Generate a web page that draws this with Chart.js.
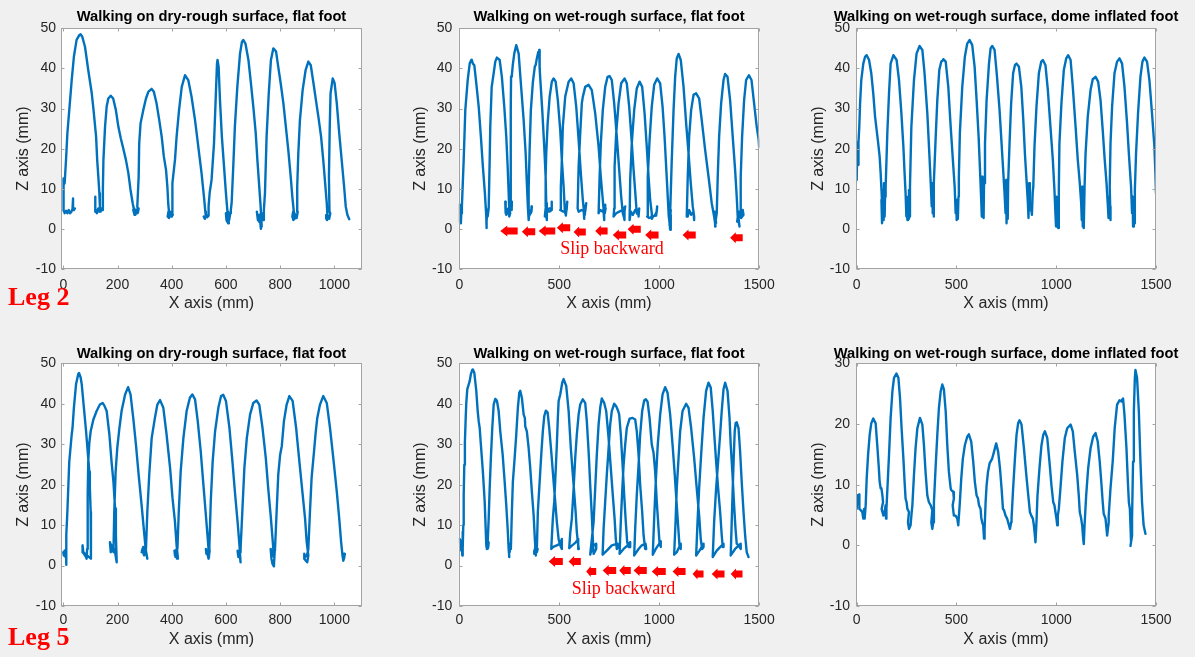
<!DOCTYPE html>
<html><head><meta charset="utf-8">
<script src="https://cdn.jsdelivr.net/npm/chart.js@4.4.1/dist/chart.umd.min.js"></script>
<style>
html,body{margin:0;padding:0;background:#f0f0f0;}
body{width:1195px;height:657px;position:relative;overflow:hidden;}
canvas{position:absolute;}
.ttl{position:absolute;width:420px;text-align:center;font:bold 14.7px 'Liberation Sans',Arial,sans-serif;line-height:17px;color:#000;white-space:nowrap;}
.leg{position:absolute;left:8px;font:bold 26px 'Liberation Serif','Times New Roman',serif;line-height:26px;color:#ff0000;white-space:nowrap;}
.slip{position:absolute;width:200px;text-align:center;font:18px 'Liberation Serif','Times New Roman',serif;line-height:18px;color:#ff0000;white-space:nowrap;}
</style></head><body>
<canvas id="c1" width="398" height="330" style="left:0px;top:0px"></canvas>
<canvas id="c2" width="399" height="330" style="left:398px;top:0px"></canvas>
<canvas id="c3" width="398" height="330" style="left:797px;top:0px"></canvas>
<canvas id="c4" width="398" height="327" style="left:0px;top:330px"></canvas>
<canvas id="c5" width="399" height="327" style="left:398px;top:330px"></canvas>
<canvas id="c6" width="398" height="327" style="left:797px;top:330px"></canvas>
<div class="ttl" style="left:1.5px;top:8px">Walking on dry-rough surface, flat foot</div>
<div class="ttl" style="left:399px;top:8px">Walking on wet-rough surface, flat foot</div>
<div class="ttl" style="left:796px;top:8px">Walking on wet-rough surface, dome inflated foot</div>
<div class="ttl" style="left:1.5px;top:344.8px">Walking on dry-rough surface, flat foot</div>
<div class="ttl" style="left:399px;top:344.8px">Walking on wet-rough surface, flat foot</div>
<div class="ttl" style="left:796px;top:344.8px">Walking on wet-rough surface, dome inflated foot</div>
<div class="leg" style="top:283.5px">Leg 2</div>
<div class="leg" style="top:624px">Leg 5</div>
<div class="slip" style="left:512px;top:239px">Slip backward</div>
<div class="slip" style="left:523.5px;top:579px">Slip backward</div>
<script>
// ---- tick values ----
const xTicksShort = [0, 200, 400, 600, 800, 1000];
const xTicksLong = [0, 500, 1000, 1500];
const zTicks50 = [-10, 0, 10, 20, 30, 40, 50];
const zTicks30 = [-10, 0, 10, 20, 30];

// ---- trajectories [X (mm), Z (mm)] ----
const leg2DryFlat = [[43,5.1],[39,4.7],[36,7.6],[34,5.0],[30,4.3],[25,3.9],[20,4.7],[15,3.9],[10,4.5],[5,3.9],[2,4.5],[1,10.5],[0,12.6],[2,11.0],[5,11.4],[10,17.2],[15,23.8],[22,29.6],[31,37.1],[39,42.9],[49,47.1],[59,48.3],[64,48.5],[70,47.9],[80,45.4],[92,39.6],[105,33.8],[111,30.0],[121,23.0],[125,17.2],[130,12.2],[133,8.9],[135,5.6],[138,4.3],
[133,5.1],[127,4.3],[121,4.7],[118,4.3],[117,8.0],[119,4.7],[124,3.9],[129,5.1],[134,4.3],[139,5.1],[143,4.7],
[146,10.0],[148,17.2],[154,25.5],[160,30.5],[166,32.5],[175,33.2],[184,32.5],[194,29.6],[203,25.5],[212,22.6],[221,20.1],[231,17.2],[240,13.9],[248,9.7],[256,6.4],[261,4.7],[264,4.1],
[262,3.5],[258,4.7],[262,5.1],[266,3.5],[270,4.7],[274,3.9],[278,5.1],[276,4.3],[273,5.6],
[278,13.0],[280,21.3],[285,26.3],[295,29.6],[305,32.5],[314,34.2],[326,34.9],[334,34.2],[344,31.3],[354,27.1],[363,23.0],[371,18.0],[379,14.7],[384,10.5],[387,6.4],[391,3.5],
[388,4.3],[385,3.1],[390,2.7],[394,4.3],[398,3.1],[401,3.9],[404,3.5],[402,5.0],
[403,11.4],[412,17.2],[418,23.0],[427,29.6],[437,35.4],[449,38.3],[461,37.1],[473,33.0],[486,27.1],[498,20.5],[510,13.9],[519,8.0],[524,4.3],[526,3.1],
[522,2.7],[518,3.1],[522,2.5],[527,3.5],[531,2.9],[535,3.3],[537,4.3],[535,5.6],
[540,9.0],[547,12.2],[556,21.3],[562,32.1],[567,41.2],[569,42.1],[573,40.4],[578,32.1],[585,23.0],[593,15.5],[600,8.9],[606,3.9],[611,1.4],
[608,3.1],[602,2.2],[600,3.9],[604,1.8],[608,4.3],[612,2.2],[616,3.9],[618,4.7],
[621,6.4],[627,15.5],[633,25.5],[642,35.4],[652,43.7],[659,46.6],[664,47.1],[672,46.2],[683,42.1],[691,37.1],[701,30.5],[710,23.8],[716,17.2],[722,11.4],[728,5.6],[732,0.6],
[729,3.5],[722,1.8],[716,3.5],[714,4.3],[718,2.2],[724,3.5],[729,0.0],[733,3.9],[737,2.2],[740,4.7],
[744,8.9],[750,23.0],[758,33.8],[766,42.1],[775,45.0],[785,44.2],[793,40.4],[802,36.3],[812,31.3],[821,25.5],[830,19.7],[839,13.0],[845,8.0],[851,3.9],[856,2.7],
[853,3.9],[849,2.2],[845,3.1],[848,4.3],[853,2.5],[857,3.5],[861,2.7],[865,4.3],
[863,10.5],[867,18.8],[873,27.1],[883,34.6],[894,39.6],[904,41.7],[913,40.8],[923,36.3],[932,32.1],[941,28.0],[951,23.0],[959,17.2],[966,11.4],[972,6.4],[975,2.7],
[972,2.5],[970,3.5],[973,2.2],[977,3.1],[981,2.5],[985,3.9],[982,4.3],
[980,13.0],[983,25.5],[986,33.8],[994,37.5],[1001,36.3],[1009,31.3],[1018,23.8],[1027,17.2],[1036,10.5],[1042,5.6],[1048,3.5],[1055,2.4]];

const leg2WetFlat = [[2,6.0],[0,3.5],[3,1.8],[5,5.1],[8,1.4],[10,3.9],[13,5.6],
[22,17.2],[30,29.6],[42,37.1],[52,41.2],[60,42.1],[62,42.2],[68,41.2],[75,40.8],[85,36.3],[97,30.5],[108,23.0],[118,15.5],[128,8.9],[135,3.1],[138,0.2],
[135,3.5],[132,5.6],[137,2.2],[140,4.7],[142,3.1],[147,5.1],
[152,17.2],[155,25.5],[162,35.4],[172,38.8],[180,41.7],[188,42.7],[202,42.1],[213,37.9],[225,30.5],[235,23.0],[242,15.5],[247,8.9],[250,4.7],[255,3.9],
[250,3.1],[245,4.7],[235,3.5],[230,6.8],[232,3.9],[245,5.1],[258,5.1],[263,6.8],[262,4.7],[256,5.6],
[257,20.0],[258,30.0],[259,38.0],[263,38.4],[268,41.0],[275,43.7],[285,45.8],[297,43.7],[308,36.3],[322,27.1],[332,18.8],[338,11.4],[343,5.6],[347,2.2],
[352,4.7],[358,3.9],[363,5.6],[361,4.3],[352,3.5],[345,4.7],
[347,10.0],[352,20.0],[358,29.6],[368,36.5],[378,40.5],[382,40.8],[388,42.5],[395,44.1],[398,43.5],[400,44.6],[402,40.0],[405,37.5],[415,29.6],[425,20.5],[432,13.0],[435,6.4],[438,2.2],
[433,4.3],[428,3.1],[432,5.1],[440,4.7],[450,5.1],[460,5.1],[463,6.8],[462,4.7],[450,4.3],[438,4.7],[432,5.5],
[432,13.0],[435,18.8],[442,26.3],[452,32.9],[463,36.7],[472,37.5],[482,36.7],[493,32.1],[505,24.6],[513,17.2],[522,10.5],[527,5.6],[530,3.9],
[527,5.1],[533,3.3],[538,5.6],[540,6.8],[537,4.7],[520,4.3],[505,4.7],
[508,10.5],[512,15.5],[518,25.5],[530,33.0],[547,36.7],[560,37.5],[572,36.3],[585,30.5],[597,22.2],[608,13.9],[618,7.2],[625,3.9],
[625,2.5],[622,4.7],[628,3.5],[632,5.6],[635,6.4],[630,4.3],[612,4.7],[597,4.3],[592,5.1],
[597,15.5],[605,23.8],[613,31.3],[618,32.9],[630,35.4],[647,35.9],[663,34.6],[680,28.8],[697,20.5],[708,13.0],[718,7.2],[725,3.1],
[725,2.2],[722,4.3],[728,3.9],[732,5.1],[730,6.0],[718,4.3],[705,4.7],[697,3.9],
[702,13.0],[708,21.3],[718,29.6],[730,35.4],[742,37.9],[752,38.1],[763,37.1],[775,31.3],[788,23.0],[800,14.7],[810,8.0],[818,3.9],[825,2.7],
[825,2.2],[828,4.3],[830,5.6],[818,4.7],[800,4.3],[785,3.9],[772,3.1],[775,5.1],
[777,15.5],[785,23.8],[797,31.3],[810,36.3],[827,37.5],[838,36.3],[850,30.5],[862,22.2],[872,14.7],[882,8.0],[888,3.9],[897,3.5],
[897,3.1],[900,5.1],[892,4.3],[880,4.7],[868,3.5],[858,4.3],[852,2.2],
[855,12.2],[863,21.3],[875,29.6],[888,35.0],[902,36.7],[915,35.4],[927,28.8],[938,20.5],[947,13.0],[955,7.2],[963,3.9],
[963,2.5],[970,3.1],[980,3.5],[988,4.3],[990,5.6],[985,3.3],[965,3.1],[950,2.7],[940,3.1],
[943,13.0],[952,22.2],[963,30.5],[975,35.9],[990,37.5],[1005,36.3],[1017,30.5],[1027,23.0],[1035,15.5],[1042,8.9],[1048,3.1],[1055,0.6],
[1050,2.5],[1055,-0.2],[1058,3.5],[1052,1.0],[1058,4.7],[1055,3.9],
[1063,17.2],[1072,29.6],[1080,37.9],[1088,42.5],[1097,43.6],[1108,42.1],[1122,35.4],[1135,26.3],[1147,18.8],[1158,11.4],[1168,5.6],[1175,3.1],
[1175,2.2],[1172,4.3],[1160,3.5],[1150,4.7],[1143,3.1],[1138,3.1],
[1143,13.0],[1150,23.0],[1160,29.6],[1172,33.4],[1185,33.8],[1200,32.5],[1213,27.1],[1230,19.7],[1247,13.0],[1263,6.4],[1275,3.1],[1282,0.6],
[1280,3.5],[1285,1.4],[1278,4.3],[1283,2.2],[1288,3.9],
[1293,13.0],[1300,23.0],[1310,31.3],[1322,37.1],[1330,38.6],[1342,37.9],[1355,32.1],[1368,23.0],[1380,14.7],[1388,8.0],[1393,3.1],[1402,0.6],
[1395,3.5],[1390,1.8],[1400,4.3],[1410,3.1],[1418,4.7],[1422,3.5],[1410,2.7],[1405,3.1],
[1408,13.0],[1415,23.0],[1425,32.1],[1435,37.1],[1449,38.3],[1462,37.1],[1475,31.3],[1488,25.5],[1498,22.2],[1500,20.5]];

const leg2WetDome = [[0,12.2],[2,18.0],[3,21.3],[5,15.8],[7,21.7],[8,16.0],[10,21.7],[13,25.5],[17,31.3],[23,37.1],[33,41.2],[42,42.9],[50,43.3],[62,42.1],[73,38.8],[83,33.8],[92,28.0],[100,24.6],[107,21.7],[115,18.0],[120,13.9],[125,8.9],[129,3.9],
[124,7.2],[127,1.4],[132,9.7],[135,2.2],[137,11.4],[140,3.1],[142,8.0],[145,10.5],
[154,24.6],[162,33.8],[170,41.2],[184,43.3],[200,42.1],[212,37.1],[224,28.8],[234,20.5],[240,13.9],[245,8.9],[249,3.1],
[252,5.6],[254,2.2],[257,8.0],[259,2.5],[262,9.7],[264,3.1],[267,10.5],
[274,25.5],[287,37.1],[300,43.7],[315,45.6],[329,44.6],[340,38.8],[354,28.8],[364,18.8],[371,11.4],[376,5.6],
[379,11.4],[381,3.9],[384,8.9],[386,3.1],[387,11.4],
[396,23.0],[404,32.1],[414,39.6],[424,41.7],[430,41.9],[434,42.3],[446,41.7],[459,35.4],[471,25.5],[482,17.2],[491,10.5],[496,3.9],
[499,7.2],[501,2.2],[504,6.4],[507,2.5],[510,8.0],[512,13.0],
[517,23.8],[529,35.4],[542,42.9],[554,46.2],[566,47.1],[579,45.8],[591,40.4],[601,32.1],[611,23.0],[618,14.7],[624,7.2],
[627,3.1],[629,13.0],[631,4.7],[634,10.5],[636,2.7],[638,11.4],
[643,21.3],[651,32.1],[663,41.2],[671,45.0],[679,45.6],[691,44.6],[703,38.0],[716,29.6],[726,21.3],[734,14.7],[741,8.9],[746,3.9],
[749,12.2],[751,1.4],[754,8.0],[757,2.5],[759,11.4],
[766,21.3],[774,31.3],[784,38.8],[793,40.8],[801,41.2],[813,40.4],[825,35.4],[835,27.1],[843,18.8],[851,12.2],[858,6.4],
[861,2.7],[864,11.4],[868,4.7],[873,6.0],[878,3.5],[882,9.0],[885,10.5],
[891,20.5],[901,30.5],[913,38.8],[925,41.7],[933,42.1],[946,40.8],[958,34.6],[971,25.5],[983,17.2],[991,9.7],[996,3.9],
[999,0.6],[1002,8.0],[1005,1.8],[1008,6.4],[1010,0.2],[1013,9.7],
[1016,21.3],[1026,31.3],[1038,39.6],[1050,42.5],[1060,43.3],[1072,42.1],[1083,35.4],[1097,25.5],[1108,17.2],[1118,11.4],[1125,6.4],
[1128,2.2],[1130,10.5],[1133,0.6],[1136,6.4],[1138,0.2],[1142,10.5],
[1147,18.8],[1158,28.0],[1172,34.6],[1183,37.3],[1197,37.9],[1210,36.7],[1222,32.1],[1233,24.6],[1243,17.2],[1252,11.4],[1259,5.6],
[1262,2.7],[1265,8.0],[1267,3.1],[1270,5.6],[1272,2.2],[1268,10.5],
[1272,21.3],[1280,30.5],[1292,38.8],[1305,41.7],[1317,42.5],[1330,41.2],[1342,35.4],[1355,26.3],[1365,18.0],[1375,10.5],[1380,3.9],
[1383,8.0],[1385,0.6],[1389,6.4],[1392,1.4],[1394,9.7],
[1400,18.8],[1410,28.8],[1422,37.9],[1432,41.7],[1442,42.7],[1455,41.7],[1467,37.1],[1480,28.8],[1492,20.5],[1497,14.0],[1500,8.9]];

const leg5DryFlat = [[0,3.3],[2,2.5],[5,3.7],[8,2.1],[10,3.7],[10,0.2],[12,7.5],[15,13.3],[22,25.7],[31,32.4],[34,34.0],[39,39.0],[47,44.8],[55,47.3],[58,47.6],[64,46.5],[68,44.8],[76,39.0],[84,33.2],[89,29.0],[93,25.7],[96,23.2],[98,19.1],[101,13.3],[102,7.5],[102,1.7],
[95,2.1],[88,2.5],[84,2.9],[80,2.9],[74,3.3],[71,5.0],[71,3.3],[76,2.9],[84,2.1],[86,1.7],[88,4.1],
[89,9.1],[91,17.4],[92,25.7],[96,30.3],[101,33.2],[111,36.1],[123,38.2],[135,39.8],[145,40.2],[151,39.6],[160,38.2],[170,32.4],[178,25.7],[185,20.7],[191,14.1],[194,7.5],[197,0.8],
[190,3.7],[182,5.0],[175,3.3],[172,5.8],[178,4.6],[185,3.3],
[188,13.3],[193,23.2],[199,29.0],[207,34.0],[215,38.2],[228,42.3],[239,44.1],[248,42.3],[258,36.5],[268,29.9],[278,22.4],[289,14.9],[298,8.3],[305,3.3],[310,1.7],
[305,3.7],[298,2.5],[292,4.1],[289,3.3],[295,4.6],[301,2.9],[305,4.1],
[310,13.3],[317,22.4],[326,31.5],[338,36.5],[347,39.8],[357,40.9],[369,39.0],[381,32.4],[394,24.1],[403,16.6],[412,10.8],[418,5.0],[423,1.7],
[420,3.3],[414,2.1],[410,3.7],[412,2.5],[418,4.1],[421,4.1],
[426,13.3],[433,23.2],[443,31.5],[455,38.2],[467,41.5],[476,42.3],[486,41.1],[496,35.7],[507,28.2],[517,19.9],[525,13.3],[533,6.6],[538,2.1],
[533,3.7],[528,2.9],[526,4.1],[530,3.3],[536,1.7],[540,3.7],[539,5.0],
[544,15.8],[551,25.7],[560,33.2],[572,39.0],[582,41.9],[590,42.2],[600,40.7],[613,34.0],[624,25.7],[633,18.3],[643,10.8],[650,5.0],[654,0.8],
[650,3.3],[645,2.5],[643,3.7],[646,2.1],[652,3.3],[654,4.1],
[661,14.1],[668,24.1],[677,31.5],[689,37.3],[701,40.2],[713,40.8],[723,39.8],[735,34.0],[747,26.6],[756,19.1],[765,12.4],[772,6.6],[777,2.1],
[772,3.7],[767,2.9],[765,4.1],[768,1.7],[772,0.4],[777,-0.2],[780,3.7],[781,4.1],
[787,13.3],[793,22.4],[800,27.4],[806,29.5],[814,35.7],[824,39.8],[834,41.9],[846,40.7],[859,34.0],[871,25.7],[882,18.3],[892,11.6],[898,5.8],[904,2.5],
[900,0.8],[895,1.2],[889,1.7],[889,2.9],[892,2.1],[898,2.5],[902,3.3],[904,4.1],
[910,13.3],[916,21.6],[925,28.2],[931,32.8],[937,36.5],[947,39.8],[959,41.9],[972,40.2],[984,34.0],[996,26.6],[1009,18.3],[1018,11.6],[1025,5.8],[1030,2.5],[1033,1.2],[1037,2.1],[1035,1.7],[1039,2.9],[1036,2.5]];

const leg5WetFlat = [[2,6.6],[5,4.6],[8,6.2],[10,3.7],[13,5.4],[15,2.5],[17,8.3],[17,4.1],
[20,10.0],[22,17.4],[25,24.9],[28,30.5],[32,36.5],[35,40.2],[40,43.6],[45,44.4],[52,45.6],[58,47.3],[65,48.4],[68,48.5],[75,47.7],[85,43.2],[92,38.2],[97,35.7],[102,34.0],[108,29.9],[118,23.2],[127,15.8],[132,9.1],[135,5.0],[138,4.1],
[142,5.4],[143,4.2],[147,5.8],[145,4.6],[142,5.8],
[147,11.6],[152,19.1],[158,26.6],[165,34.0],[172,39.8],[180,41.2],[188,40.8],[197,38.2],[205,33.2],[217,27.4],[227,20.7],[235,14.9],[242,9.1],[247,4.1],[250,2.1],
[247,4.6],[252,3.3],[255,5.4],[258,4.1],
[263,13.3],[268,20.7],[277,26.6],[285,32.4],[293,39.0],[300,42.7],[305,43.2],[313,41.5],[322,37.3],[328,36.5],[330,34.4],[338,33.2],[347,29.0],[355,24.1],[363,18.3],[372,12.4],[378,6.6],[383,2.5],
[378,3.7],[375,2.9],[380,4.6],[388,3.3],[392,4.1],[388,4.1],
[393,13.3],[402,20.7],[410,27.4],[418,33.2],[425,36.9],[433,38.3],[442,37.8],[450,34.0],[460,28.2],[472,20.7],[480,15.8],[488,10.8],[497,6.5],[505,5.0],[513,4.1],[513,6.6],[505,5.4],[488,5.0],[470,4.6],[460,4.1],
[468,11.6],[475,15.8],[482,23.2],[488,29.9],[493,36.5],[497,40.7],[505,42.3],[515,45.2],[522,46.1],[535,44.4],[547,38.2],[558,29.0],[572,19.9],[582,13.3],[588,8.3],[593,5.8],[598,4.1],[595,6.6],[580,5.6],[565,5.0],[550,4.3],
[555,8.0],[563,11.6],[572,19.1],[580,26.6],[588,32.4],[597,37.3],[605,39.8],[618,41.1],[630,40.2],[638,35.7],[647,28.2],[655,19.9],[663,12.4],[668,6.6],[672,2.9],[685,4.1],[685,5.4],[675,5.1],[663,4.1],[655,2.7],
[672,10.8],[680,19.1],[688,27.4],[697,34.9],[705,39.0],[713,41.3],[725,40.2],[735,38.2],[747,31.5],[758,24.1],[768,17.4],[777,11.6],[783,6.6],[788,4.1],[795,4.6],[792,5.4],[763,5.0],[738,3.7],[717,2.7],
[722,9.1],[730,15.8],[738,22.4],[747,29.0],[755,34.9],[763,38.2],[775,40.0],[785,39.4],[795,38.2],[800,37.3],[808,32.4],[817,24.9],[825,17.4],[833,10.8],[840,5.8],[847,4.6],[855,4.6],[855,5.8],[842,5.0],[822,4.1],[802,2.9],
[808,10.8],[815,18.3],[822,24.9],[830,29.9],[838,34.0],[852,36.3],[867,36.5],[880,36.1],[888,33.2],[897,27.4],[905,19.9],[915,13.3],[922,7.5],[930,4.1],[935,4.1],[932,5.4],[913,5.0],[897,4.1],[875,2.5],
[880,9.1],[888,17.4],[897,24.9],[905,32.4],[915,38.2],[925,40.8],[933,41.1],[942,40.5],[952,36.5],[963,29.9],[972,27.8],[980,23.2],[988,15.8],[997,9.1],[1002,5.4],[1008,4.6],[1008,6.0],[983,4.1],[968,2.7],
[975,11.6],[983,20.7],[993,29.9],[1005,37.3],[1017,42.3],[1030,44.1],[1042,42.7],[1055,37.3],[1067,29.9],[1078,22.4],[1088,14.9],[1097,8.3],[1102,4.6],[1108,4.1],[1108,5.4],[1088,3.3],[1075,2.7],
[1082,10.8],[1088,19.1],[1097,26.6],[1105,33.2],[1117,38.2],[1135,40.0],[1147,39.0],[1160,34.0],[1175,26.6],[1188,19.1],[1200,12.4],[1208,6.6],[1215,4.1],[1222,4.6],[1222,5.4],[1202,3.7],[1185,2.5],
[1192,10.8],[1200,19.1],[1210,27.4],[1222,36.5],[1235,43.2],[1247,45.2],[1258,44.0],[1268,38.2],[1277,31.5],[1285,25.7],[1295,19.1],[1305,13.3],[1313,7.5],[1318,4.6],[1322,4.6],[1322,5.4],[1288,3.7],[1268,2.1],
[1275,10.8],[1285,19.1],[1295,25.7],[1305,32.4],[1313,38.2],[1322,43.6],[1330,45.2],[1342,43.2],[1352,36.5],[1358,29.9],[1367,22.4],[1375,14.9],[1382,9.1],[1388,5.4],[1397,5.0],[1408,4.1],[1408,5.4],[1380,4.1],[1358,2.5],
[1363,10.8],[1368,19.1],[1373,26.6],[1378,33.2],[1383,35.3],[1388,35.4],[1397,34.0],[1405,28.2],[1413,20.7],[1422,13.3],[1430,7.5],[1438,3.3],[1447,2.1]];

const leg5WetDome = [[0,6.0],[3,8.2],[5,7.1],[12,8.4],[15,7.1],[12,6.0],[20,5.8],[28,5.5],[33,4.4],[37,6.0],[40,4.4],[45,6.6],
[50,11.0],[57,14.9],[65,18.2],[73,20.1],[83,20.9],[95,20.1],[103,16.5],[110,13.2],[115,10.5],[120,9.4],[124,9.4],[129,8.2],[132,7.1],[125,6.0],[134,4.9],[140,5.5],[145,6.6],[147,4.4],[149,6.0],
[154,9.4],[162,14.9],[170,21.0],[179,25.4],[187,27.6],[199,28.3],[209,27.6],[217,24.3],[225,19.3],[234,14.3],[240,10.5],[245,7.7],[250,7.1],[254,6.0],[262,5.5],[257,3.8],[262,2.7],[270,3.3],[274,4.9],
[279,6.6],[287,11.6],[295,16.0],[304,19.3],[317,21.0],[329,19.9],[337,16.5],[345,12.1],[354,8.2],[362,7.1],[371,6.6],[379,5.8],[374,3.8],[379,2.7],[384,3.8],[387,7.1],
[396,13.2],[404,18.2],[412,22.6],[421,25.4],[429,26.5],[437,25.7],[446,22.1],[454,16.5],[462,12.1],[471,9.4],[474,9.1],[484,8.8],[487,7.7],[481,6.6],[487,4.9],[496,4.9],[504,4.4],[509,3.3],
[517,7.1],[524,11.0],[532,14.3],[542,16.5],[554,17.9],[562,18.3],[574,17.1],[584,13.8],[592,10.5],[601,8.2],[608,7.7],[613,6.6],[621,6.0],[624,4.6],[629,3.8],[634,3.3],[638,1.1],
[641,2.7],[646,7.1],[651,9.9],[658,12.1],[666,13.5],[679,14.3],[688,15.4],[699,16.8],[709,15.4],[718,12.7],[726,9.4],[733,6.0],[738,5.8],[746,4.9],[754,4.4],[763,3.3],[768,2.7],[774,3.8],
[776,4.4],[784,9.4],[793,14.3],[801,18.2],[809,20.1],[816,20.6],[826,19.9],[838,16.0],[850,11.6],[860,8.2],[868,5.5],[875,4.9],[883,4.4],[888,3.3],[893,1.6],[896,0.5],
[901,3.8],[906,8.2],[916,12.7],[926,16.5],[935,18.2],[943,18.8],[955,17.7],[966,13.8],[976,9.9],[985,7.1],[991,6.6],[996,5.5],[1001,4.4],[1005,3.3],[1008,4.9],
[1013,6.0],[1021,9.4],[1031,13.8],[1043,17.7],[1055,19.3],[1072,19.9],[1083,18.8],[1093,15.4],[1105,11.6],[1113,8.2],[1118,5.5],[1125,4.4],[1130,3.3],[1135,1.1],[1138,0.2],
[1142,3.3],[1150,8.2],[1160,12.7],[1172,16.0],[1185,17.9],[1197,18.5],[1208,17.1],[1218,13.8],[1227,9.9],[1233,7.1],[1238,5.2],[1247,4.4],[1252,2.7],[1255,1.6],[1263,3.8],
[1263,4.9],[1272,9.4],[1283,13.8],[1293,19.3],[1305,23.2],[1317,23.9],[1327,23.7],[1330,24.0],[1335,24.2],[1342,21.5],[1352,16.0],[1359,10.5],[1364,7.1],[1369,6.0],[1372,3.3],[1375,0.5],[1372,-0.1],[1380,1.6],
[1380,4.4],[1385,13.8],[1389,22.1],[1394,27.6],[1397,28.9],[1405,27.6],[1414,22.1],[1422,13.8],[1430,7.1],[1438,3.3],[1447,1.9]];

// ---- "Slip backward" arrows: tip X, tail X, Z ----
const slipLeg2Tip  = [205, 313, 397, 488, 572, 680, 768, 842, 930, 1117, 1355];
const slipLeg2Tail = [292, 380, 480, 555, 633, 742, 835, 908, 997, 1183, 1418];
const slipLeg2Z    = [-0.5, -0.7, -0.5, 0.3, -0.8, -0.5, -1.5, -0.1, -1.5, -1.5, -2.2];
const slipLeg5Tip  = [447, 547, 635, 717, 800, 872, 963, 1067, 1167, 1263, 1358];
const slipLeg5Tail = [518, 608, 685, 785, 858, 938, 1033, 1132, 1222, 1327, 1417];
const slipLeg5Z    = [1.0, 1.0, -1.5, -1.2, -1.2, -1.2, -1.5, -1.5, -2.1, -2.1, -2.1];

// ---- rendering ----
const FONT = "'Liberation Sans', Arial, Helvetica, sans-serif";
const AXIS_COLOR = '#a3a3a3';
const LABEL_COLOR = '#262626';
const LINE_COLOR = '#0072BD';

const framePlugin = {
  id: 'frame',
  beforeDraw(chart) {
    const a = chart.chartArea, c = chart.ctx;
    c.save(); c.fillStyle = '#ffffff';
    c.fillRect(a.left, a.top, a.right - a.left, a.bottom - a.top);
    c.restore();
  },
  afterDatasetsDraw(chart, args, opts) {
    if (!opts.tips) return;
    const c = chart.ctx, xs = chart.scales.x, ys = chart.scales.y;
    c.save(); c.fillStyle = '#ff0000';
    opts.tips.forEach((t, i) => {
      const x1 = xs.getPixelForValue(t), x2 = xs.getPixelForValue(opts.tails[i]);
      const y = ys.getPixelForValue(opts.zs[i]);
      const hl = Math.min(7, (x2 - x1) * 0.45), hh = 5.5, sh = 3.5;
      c.beginPath();
      c.moveTo(x1, y); c.lineTo(x1 + hl, y - hh); c.lineTo(x1 + hl, y - sh);
      c.lineTo(x2, y - sh); c.lineTo(x2, y + sh); c.lineTo(x1 + hl, y + sh);
      c.lineTo(x1 + hl, y + hh); c.closePath(); c.fill();
    });
    c.restore();
  },
  afterDraw(chart, args, opts) {
    const a = chart.chartArea, c = chart.ctx, xs = chart.scales.x, ys = chart.scales.y;
    c.save(); c.strokeStyle = AXIS_COLOR; c.lineWidth = 1;
    const L = Math.round(a.left) + 0.5, R = Math.round(a.right) - 0.5;
    const T = Math.round(a.top) + 0.5, B = Math.round(a.bottom) - 0.5;
    c.strokeRect(L, T, R - L, B - T);
    c.beginPath();
    opts.xTicks.forEach(v => {
      const p = Math.round(xs.getPixelForValue(v)) + 0.5;
      c.moveTo(p, B); c.lineTo(p, B - 3); c.moveTo(p, T); c.lineTo(p, T + 3);
    });
    opts.yTicks.forEach(v => {
      const p = Math.round(ys.getPixelForValue(v)) + 0.5;
      c.moveTo(L, p); c.lineTo(L + 3, p); c.moveTo(R, p); c.lineTo(R - 3, p);
    });
    c.stroke(); c.restore();
  }
};

const rows = [
  { padTop: 28.3, xH: 61, tickPad: 8, xTitlePad: 16.4 },
  { padTop: 33.3, xH: 51, tickPad: 5.6, xTitlePad: 7.9 }
];
const cols = [
  { yW: 61, padR: 36, labelPad: 5, yTitlePad: 14 },
  { yW: 60.7, padR: 37.7, labelPad: 6.5, yTitlePad: 13.4 },
  { yW: 59, padR: 39, labelPad: 6, yTitlePad: 11.5 }
];

const panels = [
  { id: 'c1', r: 0, c: 0, data: leg2DryFlat, xMin: -8.5, xMax: 1102, xt: xTicksShort, yMax: 50, yt: zTicks50 },
  { id: 'c2', r: 0, c: 1, data: leg2WetFlat, xMin: -3, xMax: 1501, xt: xTicksLong, yMax: 50, yt: zTicks50, tips: slipLeg2Tip, tails: slipLeg2Tail, zs: slipLeg2Z },
  { id: 'c3', r: 0, c: 2, data: leg2WetDome, xMin: -3.5, xMax: 1500, xt: xTicksLong, yMax: 50, yt: zTicks50 },
  { id: 'c4', r: 1, c: 0, data: leg5DryFlat, xMin: -8.5, xMax: 1102, xt: xTicksShort, yMax: 50, yt: zTicks50 },
  { id: 'c5', r: 1, c: 1, data: leg5WetFlat, xMin: -3, xMax: 1501, xt: xTicksLong, yMax: 50, yt: zTicks50, tips: slipLeg5Tip, tails: slipLeg5Tail, zs: slipLeg5Z },
  { id: 'c6', r: 1, c: 2, data: leg5WetDome, xMin: -3.5, xMax: 1500, xt: xTicksLong, yMax: 30, yt: zTicks30 }
];

panels.forEach(p => {
  const row = rows[p.r], col = cols[p.c];
  new Chart(document.getElementById(p.id), {
    type: 'scatter',
    data: { datasets: [{
      data: p.data.map(d => ({ x: d[0], y: d[1] })),
      showLine: true, borderColor: LINE_COLOR, borderWidth: 2.4,
      pointRadius: 0, pointHoverRadius: 0, tension: 0, fill: false,
      borderJoinStyle: 'round', borderCapStyle: 'round'
    }] },
    options: {
      responsive: false, animation: false, devicePixelRatio: 1,
      layout: { padding: { top: row.padTop, right: col.padR, bottom: 0, left: 0 } },
      plugins: {
        legend: { display: false }, tooltip: { enabled: false }, title: { display: false },
        frame: { xTicks: p.xt, yTicks: p.yt, tips: p.tips, tails: p.tails, zs: p.zs }
      },
      scales: {
        x: {
          type: 'linear', position: 'bottom', min: p.xMin, max: p.xMax,
          afterBuildTicks: s => { s.ticks = p.xt.map(v => ({ value: v })); },
          afterFit: s => { s.height = row.xH; },
          grid: { display: false, drawTicks: false }, border: { display: false },
          ticks: { padding: row.tickPad, color: LABEL_COLOR, font: { family: FONT, size: 14 }, maxRotation: 0, autoSkip: false, callback: v => String(v) },
          title: { display: true, text: 'X axis (mm)', color: '#262626', font: { family: FONT, size: 16 }, padding: { top: 0, bottom: row.xTitlePad } }
        },
        y: {
          type: 'linear', position: 'left', min: -10, max: p.yMax,
          afterBuildTicks: s => { s.ticks = p.yt.map(v => ({ value: v })); },
          afterFit: s => { s.width = col.yW; },
          grid: { display: false, drawTicks: false }, border: { display: false },
          ticks: { padding: col.labelPad, color: LABEL_COLOR, font: { family: FONT, size: 14 }, autoSkip: false, callback: v => String(v) },
          title: { display: true, text: 'Z axis (mm)', color: '#262626', font: { family: FONT, size: 16 }, padding: { top: col.yTitlePad, bottom: 0 } }
        }
      }
    },
    plugins: [framePlugin]
  });
});
</script>
</body></html>
